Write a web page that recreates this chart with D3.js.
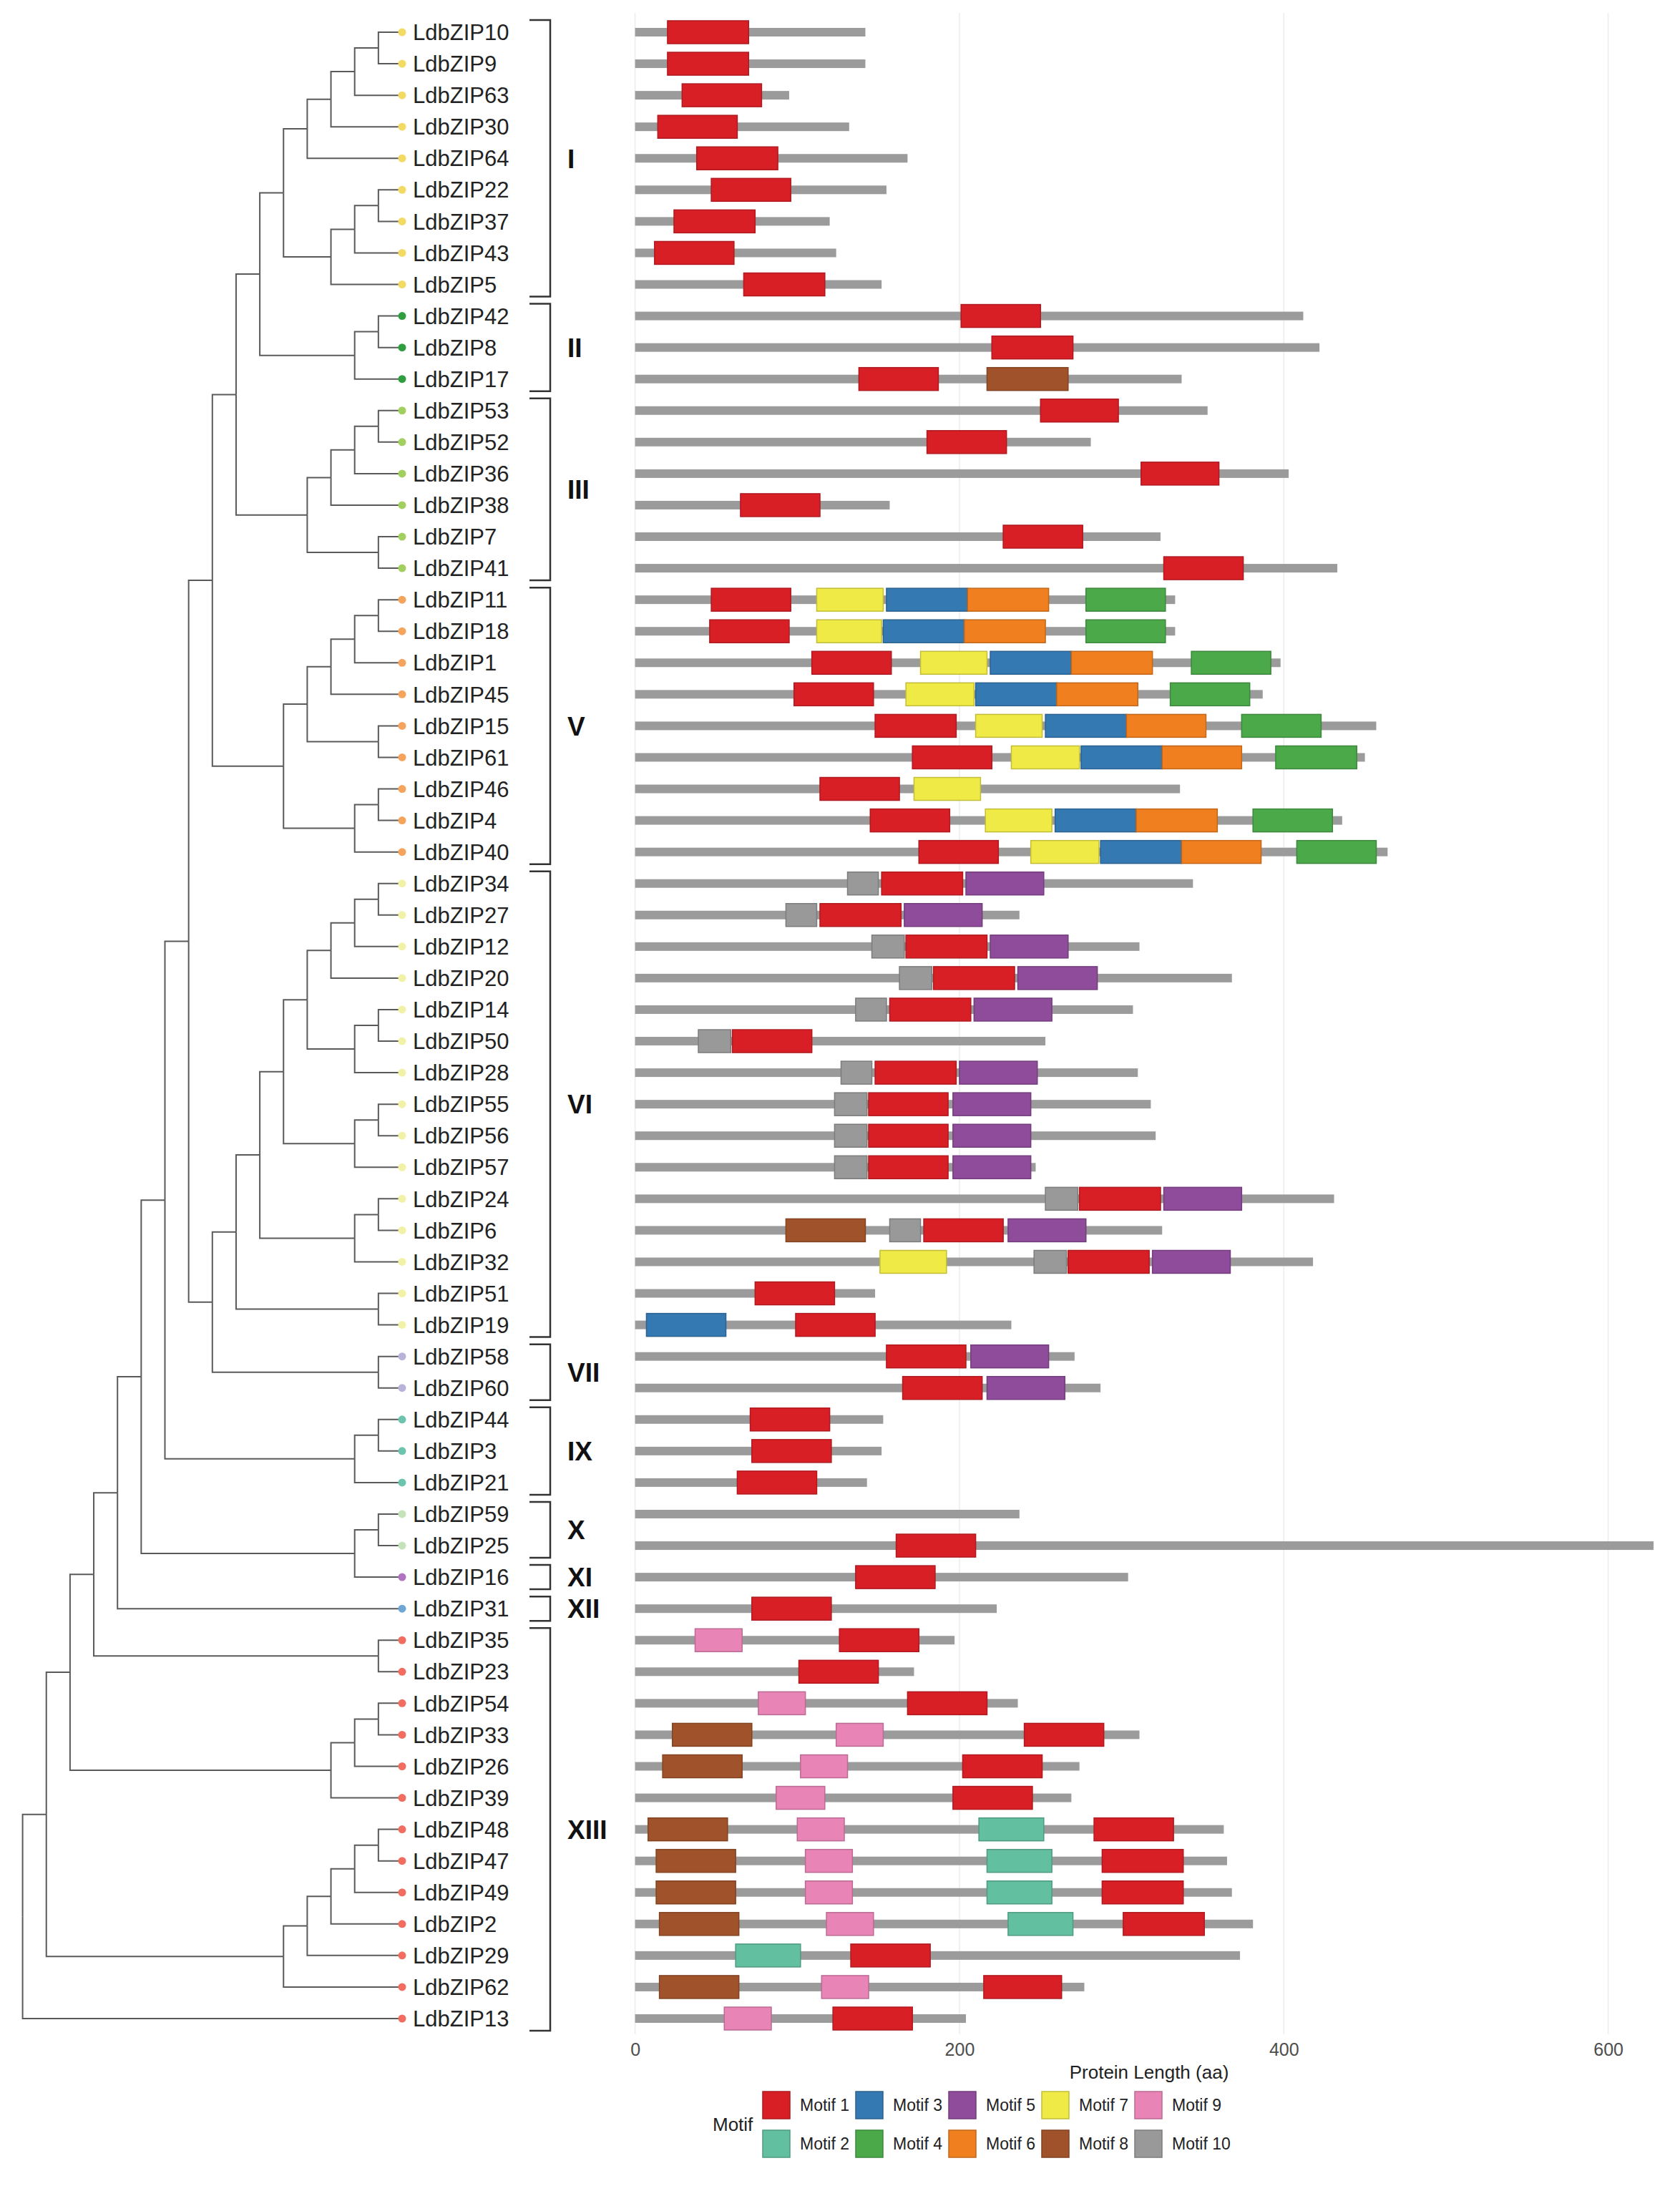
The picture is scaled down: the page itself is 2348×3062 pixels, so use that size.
<!DOCTYPE html>
<html>
<head>
<meta charset="utf-8">
<script src="https://cdn.jsdelivr.net/npm/d3@7"></script>
<style>
  html, body { margin: 0; padding: 0; background: #fff; }
  svg text { font-family: "Liberation Sans", Arial, Helvetica, sans-serif; }
</style>
</head>
<body>
<div id="chart"></div>
<script>
// clade subtrees, newick, numbers are LdbZIP ids
const treeI    = "(((((10,9),63),30),64),(((22,37),43),5))";
const treeII   = "((42,8),17)";
const treeIII  = "((((53,52),36),38),(7,41))";
const treeV    = "(((((11,18),1),45),(15,61)),((46,4),40))";
const treeVI   = "(((((((34,27),12),20),((14,50),28)),((55,56),57)),((24,6),32)),(51,19))";
const treeVII  = "(58,60)";
const treeIX   = "((44,3),21)";
const treeXXI  = "((59,25),16)";
const treeXII  = "31";
const treeXIIIa = "(35,23)";
const treeXIIIb = "(((54,33),26),39)";
const treeXIIIc = "(((((48,47),49),2),29),62)";
const treeXIIId = "13";

const genes = ["LdbZIP10","LdbZIP9","LdbZIP63","LdbZIP30","LdbZIP64","LdbZIP22","LdbZIP37","LdbZIP43","LdbZIP5",
  "LdbZIP42","LdbZIP8","LdbZIP17","LdbZIP53","LdbZIP52","LdbZIP36","LdbZIP38","LdbZIP7","LdbZIP41",
  "LdbZIP11","LdbZIP18","LdbZIP1","LdbZIP45","LdbZIP15","LdbZIP61","LdbZIP46","LdbZIP4","LdbZIP40",
  "LdbZIP34","LdbZIP27","LdbZIP12","LdbZIP20","LdbZIP14","LdbZIP50","LdbZIP28","LdbZIP55","LdbZIP56",
  "LdbZIP57","LdbZIP24","LdbZIP6","LdbZIP32","LdbZIP51","LdbZIP19","LdbZIP58","LdbZIP60","LdbZIP44",
  "LdbZIP3","LdbZIP21","LdbZIP59","LdbZIP25","LdbZIP16","LdbZIP31","LdbZIP35","LdbZIP23","LdbZIP54",
  "LdbZIP33","LdbZIP26","LdbZIP39","LdbZIP48","LdbZIP47","LdbZIP49","LdbZIP2","LdbZIP29","LdbZIP62","LdbZIP13"];

const lengths = [142,142,95,132,168,155,120,124,152,
  412,422,337,353,281,403,157,324,433,
  333,333,398,387,457,450,336,436,464,
  344,237,311,368,307,253,310,318,321,
  247,431,325,418,148,232,271,287,153,
  152,143,237,628,304,223,197,172,236,
  311,274,269,363,365,368,381,373,277,204];

const groupNames = ["I","II","III","V","VI","VII","IX","X","XI","XII","XIII"];
const groupFirst = ["LdbZIP10","LdbZIP42","LdbZIP53","LdbZIP11","LdbZIP34","LdbZIP58","LdbZIP44","LdbZIP59","LdbZIP16","LdbZIP31","LdbZIP35"];
const groupLast  = ["LdbZIP5","LdbZIP17","LdbZIP41","LdbZIP40","LdbZIP19","LdbZIP60","LdbZIP21","LdbZIP25","LdbZIP16","LdbZIP31","LdbZIP13"];
const groupColors = ["#f3da62","#2f9e3f","#a2d05f","#f6a35b","#f2f2a6","#b9b3da","#6cc3ae","#c5e3b9","#b172c1","#70a6d6","#f26c5f"];

const motifNames = ["Motif 1","Motif 2","Motif 3","Motif 4","Motif 5","Motif 6","Motif 7","Motif 8","Motif 9","Motif 10"];
const motifColors = ["#d91f26","#62bfa0","#3579b2","#4ba94a","#8e4c9b","#f07f1f","#f0ea46","#a0532a","#e884b6","#999999"];

// [gene, motif, start, end]
const motifHits = [
  ["LdbZIP10",1,20,70],["LdbZIP9",1,20,70],["LdbZIP63",1,29,78],["LdbZIP30",1,14,63],["LdbZIP64",1,38,88],
  ["LdbZIP22",1,47,96],["LdbZIP37",1,24,74],["LdbZIP43",1,12,61],["LdbZIP5",1,67,117],
  ["LdbZIP42",1,201,250],["LdbZIP8",1,220,270],["LdbZIP17",1,138,187],["LdbZIP17",8,217,267],
  ["LdbZIP53",1,250,298],["LdbZIP52",1,180,229],["LdbZIP36",1,312,360],["LdbZIP38",1,65,114],
  ["LdbZIP7",1,227,276],["LdbZIP41",1,326,375],
  ["LdbZIP11",1,47,96],["LdbZIP11",7,112,153],["LdbZIP11",3,155,205],["LdbZIP11",6,205,255],["LdbZIP11",4,278,327],
  ["LdbZIP18",1,46,95],["LdbZIP18",7,112,152],["LdbZIP18",3,153,203],["LdbZIP18",6,203,253],["LdbZIP18",4,278,327],
  ["LdbZIP1",1,109,158],["LdbZIP1",7,176,217],["LdbZIP1",3,219,269],["LdbZIP1",6,269,319],["LdbZIP1",4,343,392],
  ["LdbZIP45",1,98,147],["LdbZIP45",7,167,209],["LdbZIP45",3,210,260],["LdbZIP45",6,260,310],["LdbZIP45",4,330,379],
  ["LdbZIP15",1,148,198],["LdbZIP15",7,210,251],["LdbZIP15",3,253,303],["LdbZIP15",6,303,352],["LdbZIP15",4,374,423],
  ["LdbZIP61",1,171,220],["LdbZIP61",7,232,274],["LdbZIP61",3,275,325],["LdbZIP61",6,325,374],["LdbZIP61",4,395,445],
  ["LdbZIP46",1,114,163],["LdbZIP46",7,172,213],
  ["LdbZIP4",1,145,194],["LdbZIP4",7,216,257],["LdbZIP4",3,259,309],["LdbZIP4",6,309,359],["LdbZIP4",4,381,430],
  ["LdbZIP40",1,175,224],["LdbZIP40",7,244,286],["LdbZIP40",3,287,337],["LdbZIP40",6,337,386],["LdbZIP40",4,408,457],
  ["LdbZIP34",10,131,150],["LdbZIP34",1,152,202],["LdbZIP34",5,204,252],
  ["LdbZIP27",10,93,112],["LdbZIP27",1,114,164],["LdbZIP27",5,166,214],
  ["LdbZIP12",10,146,166],["LdbZIP12",1,167,217],["LdbZIP12",5,219,267],
  ["LdbZIP20",10,163,183],["LdbZIP20",1,184,234],["LdbZIP20",5,236,285],
  ["LdbZIP14",10,136,155],["LdbZIP14",1,157,207],["LdbZIP14",5,209,257],
  ["LdbZIP50",10,39,59],["LdbZIP50",1,60,109],
  ["LdbZIP28",10,127,146],["LdbZIP28",1,148,198],["LdbZIP28",5,200,248],
  ["LdbZIP55",10,123,143],["LdbZIP55",1,144,193],["LdbZIP55",5,196,244],
  ["LdbZIP56",10,123,143],["LdbZIP56",1,144,193],["LdbZIP56",5,196,244],
  ["LdbZIP57",10,123,143],["LdbZIP57",1,144,193],["LdbZIP57",5,196,244],
  ["LdbZIP24",10,253,273],["LdbZIP24",1,274,324],["LdbZIP24",5,326,374],
  ["LdbZIP6",8,93,142],["LdbZIP6",10,157,176],["LdbZIP6",1,178,227],["LdbZIP6",5,230,278],
  ["LdbZIP32",7,151,192],["LdbZIP32",10,246,266],["LdbZIP32",1,267,317],["LdbZIP32",5,319,367],
  ["LdbZIP51",1,74,123],["LdbZIP19",3,7,56],["LdbZIP19",1,99,148],
  ["LdbZIP58",1,155,204],["LdbZIP58",5,207,255],["LdbZIP60",1,165,214],["LdbZIP60",5,217,265],
  ["LdbZIP44",1,71,120],["LdbZIP3",1,72,121],["LdbZIP21",1,63,112],
  ["LdbZIP25",1,161,210],["LdbZIP16",1,136,185],["LdbZIP31",1,72,121],
  ["LdbZIP35",9,37,66],["LdbZIP35",1,126,175],["LdbZIP23",1,101,150],
  ["LdbZIP54",9,76,105],["LdbZIP54",1,168,217],
  ["LdbZIP33",8,23,72],["LdbZIP33",9,124,153],["LdbZIP33",1,240,289],
  ["LdbZIP26",8,17,66],["LdbZIP26",9,102,131],["LdbZIP26",1,202,251],
  ["LdbZIP39",9,87,117],["LdbZIP39",1,196,245],
  ["LdbZIP48",8,8,57],["LdbZIP48",9,100,129],["LdbZIP48",2,212,252],["LdbZIP48",1,283,332],
  ["LdbZIP47",8,13,62],["LdbZIP47",9,105,134],["LdbZIP47",2,217,257],["LdbZIP47",1,288,338],
  ["LdbZIP49",8,13,62],["LdbZIP49",9,105,134],["LdbZIP49",2,217,257],["LdbZIP49",1,288,338],
  ["LdbZIP2",8,15,64],["LdbZIP2",9,118,147],["LdbZIP2",2,230,270],["LdbZIP2",1,301,351],
  ["LdbZIP29",2,62,102],["LdbZIP29",1,133,182],
  ["LdbZIP62",8,15,64],["LdbZIP62",9,115,144],["LdbZIP62",1,215,263],
  ["LdbZIP13",9,55,84],["LdbZIP13",1,122,171]
];

const xTicks = [0, 200, 400, 600];

// join the clades along the backbone of the tree
const pair = (a, b) => "(" + a + "," + b + ")";
const newick = pair(pair(pair(pair(pair(pair(pair(
  pair(pair(pair(pair(treeI, treeII), treeIII), treeV), pair(treeVI, treeVII)),
  treeIX), treeXXI), treeXII), treeXIIIa), treeXIIIb), treeXIIIc), treeXIIId);

// tiny newick reader -> nested objects
function parseNewick(s) {
  let i = 0;
  function node() {
    if (s[i] === "(") {
      i++;
      const kids = [];
      while (i < s.length) {
        kids.push(node());
        if (s[i] === ",") { i++; continue; }
        i++;
        break;
      }
      return {children: kids};
    }
    let name = "";
    while (i < s.length && ",)".indexOf(s[i]) < 0) name += s[i++];
    return {name: "LdbZIP" + name};
  }
  return node();
}

const W = 2348, H = 3062;
const svg = d3.select("#chart").append("svg")
  .attr("width", W).attr("height", H)
  .attr("viewBox", [0, 0, W, H]);
svg.append("rect").attr("width", W).attr("height", H).attr("fill", "#fff");

const y = d3.scalePoint().domain(genes).range([45, 2821]);

// ---------- tree ----------
const root = d3.hierarchy(parseNewick(newick));
const depth = d3.scaleLinear().domain([root.height, 0]).range([31.6, 562]);
root.eachAfter(d => {
  d.px = depth(d.height);
  d.py = d.children ? d3.mean(d.children, c => c.py) : y(d.data.name);
});

const tree = svg.append("g");
tree.selectAll(".edge")
  .data(root.links())
  .enter()
  .append("path")
  .attr("class", "edge")
  .attr("fill", "none")
  .attr("stroke", "#5a5a5a")
  .attr("stroke-width", 2)
  .attr("d", d => `M${d.source.px},${d.source.py}V${d.target.py}H${d.target.px}`);

const groupOf = {};
groupNames.forEach((g, k) => {
  const a = genes.indexOf(groupFirst[k]), b = genes.indexOf(groupLast[k]);
  for (let j = a; j <= b; j++) groupOf[genes[j]] = k;
});

const tips = tree.selectAll(".tip")
  .data(root.leaves())
  .enter()
  .append("g")
  .attr("class", "tip")
  .attr("transform", d => `translate(${d.px},${d.py})`);

tips.append("circle")
  .attr("r", 5.5)
  .style("fill", d => groupColors[groupOf[d.data.name]]);

tips.append("text")
  .attr("x", 15)
  .attr("dy", "0.36em")
  .style("font-size", "31px")
  .style("fill", "#222")
  .text(d => d.data.name);

// ---------- clade brackets ----------
const brackets = svg.append("g")
  .selectAll(".clade")
  .data(groupNames.map((g, k) => ({name: g, y0: y(groupFirst[k]) - 17, y1: y(groupLast[k]) + 17})))
  .enter()
  .append("g")
  .attr("class", "clade");

brackets.append("path")
  .attr("fill", "none")
  .attr("stroke", "#333")
  .attr("stroke-width", 2.5)
  .attr("d", d => `M740,${d.y0}H769V${d.y1}H740`);

brackets.append("text")
  .attr("x", 793)
  .attr("y", d => (d.y0 + d.y1) / 2)
  .attr("dy", "0.36em")
  .style("font-size", "37px")
  .style("font-weight", "bold")
  .style("fill", "#111")
  .text(d => d.name);

// ---------- motif panel ----------
const x = d3.scaleLinear().domain([0, 600]).range([887.6, 2247.6]);
const color = d3.scaleOrdinal().domain(d3.range(1, 11)).range(motifColors);

const panel = svg.append("g");
panel.selectAll(".grid")
  .data(xTicks)
  .enter()
  .append("line")
  .attr("class", "grid")
  .attr("x1", d => x(d)).attr("x2", d => x(d))
  .attr("y1", 18).attr("y2", 2843)
  .attr("stroke", "#ececec")
  .attr("stroke-width", 1.5);

panel.selectAll(".backbone")
  .data(genes.map((g, k) => ({gene: g, len: lengths[k]})))
  .enter()
  .append("rect")
  .attr("class", "backbone")
  .attr("x", x(0))
  .attr("y", d => y(d.gene) - 6)
  .attr("width", d => x(d.len) - x(0))
  .attr("height", 12)
  .attr("fill", "#9b9b9b");

panel.selectAll(".motif")
  .data(motifHits)
  .enter()
  .append("rect")
  .attr("class", "motif")
  .attr("x", d => x(d[2]))
  .attr("y", d => y(d[0]) - 16)
  .attr("width", d => x(d[3]) - x(d[2]))
  .attr("height", 32)
  .attr("fill", d => color(d[1]))
  .attr("stroke", d => d3.color(color(d[1])).darker(0.6))
  .attr("stroke-width", 1.5);

// x axis (labels only, minimal theme)
const axis = svg.append("g")
  .attr("transform", "translate(0,2864)")
  .call(d3.axisBottom(x).tickValues(xTicks).tickSize(0).tickPadding(0));
axis.select(".domain").remove();
axis.selectAll("text")
  .attr("y", 0)
  .attr("dy", "0.36em")
  .style("font-size", "25px")
  .style("font-family", "'Liberation Sans', Arial, sans-serif")
  .style("fill", "#4d4d4d");

svg.append("text")
  .attr("x", 1606)
  .attr("y", 2896)
  .attr("dy", "0.36em")
  .attr("text-anchor", "middle")
  .style("font-size", "26px")
  .style("fill", "#222")
  .text("Protein Length (aa)");

// ---------- legend ----------
const legend = svg.append("g");
legend.append("text")
  .attr("x", 996)
  .attr("y", 2969)
  .attr("dy", "0.36em")
  .style("font-size", "26px")
  .style("fill", "#222")
  .text("Motif");

const keys = legend.selectAll(".key")
  .data(motifNames)
  .enter()
  .append("g")
  .attr("class", "key")
  .attr("transform", (d, k) => `translate(${1066 + Math.floor(k / 2) * 130},${k % 2 === 0 ? 2923 : 2977})`);

keys.append("rect")
  .attr("width", 38)
  .attr("height", 38)
  .attr("fill", (d, k) => color(k + 1))
  .attr("stroke", (d, k) => d3.color(color(k + 1)).darker(0.6))
  .attr("stroke-width", 1.5);

keys.append("text")
  .attr("x", 52)
  .attr("y", 19)
  .attr("dy", "0.36em")
  .style("font-size", "23px")
  .style("fill", "#222")
  .text(d => d);
</script>
</body>
</html>
